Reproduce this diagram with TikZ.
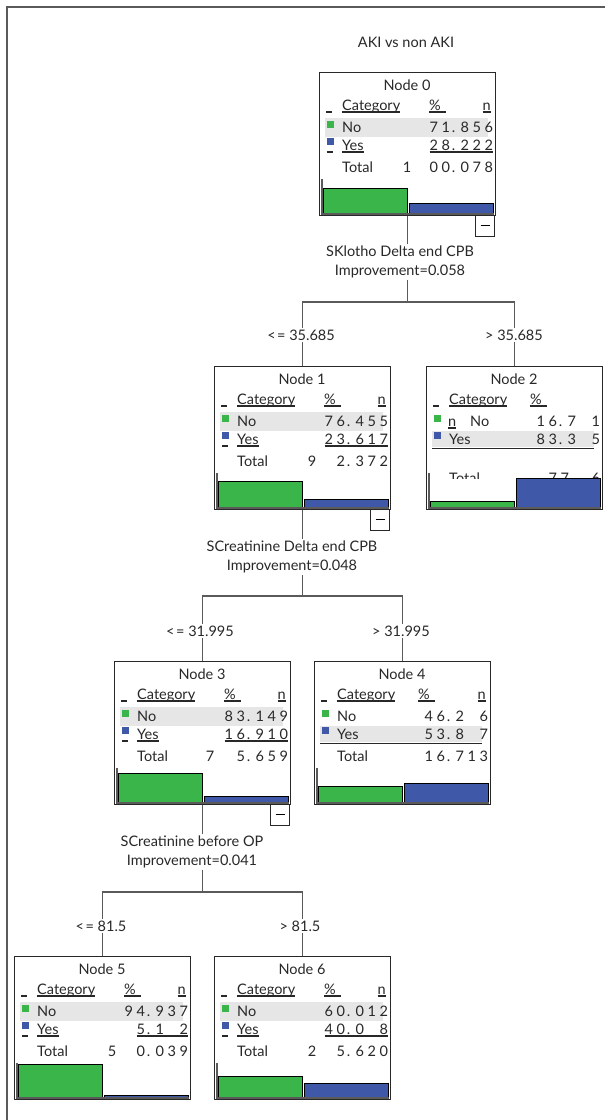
\documentclass[tikz,border=0pt]{standalone}
\usepackage{fontspec}
\setmainfont{Lato}
\usetikzlibrary{backgrounds}
\definecolor{gbar}{RGB}{57,181,74}
\definecolor{bbar}{RGB}{63,88,168}
\definecolor{band}{RGB}{230,230,230}
\definecolor{ink}{RGB}{40,40,40}
\definecolor{lin}{RGB}{90,90,90}
\makeatletter
\def\sl@x{x}\def\sl@dot{.}
\newcommand\slots[1]{\@tfor\sl@t:=#1\do{\ifx\sl@t\sl@x\makebox[12pt]{}\else\ifx\sl@t\sl@dot\makebox[7pt][l]{.}\else\makebox[12pt]{\sl@t}\fi\fi}}
\makeatother
\newcommand\myleq{<\kern1.5pt=}
\tikzset{
  txt/.style={font=\fontsize{14.5}{19}\selectfont, text=ink, inner sep=0pt},
  boxframe/.style={draw=ink, line width=0.8pt, fill=white, minimum width=176pt, minimum height=143pt, inner sep=0pt, anchor=north west},
  uline/.style={ink, line width=1.2pt},
  thickline/.style={ink, line width=1.6pt},
  conn/.style={lin, line width=1.2pt},
  lbl/.style={txt, fill=white, inner sep=1.5pt, align=center},
  minusbox/.style={draw=ink, line width=0.8pt, fill=white, minimum width=19pt, minimum height=21pt, inner sep=0pt, anchor=north east},
  barg/.style={fill=gbar, draw=black, line width=0.8pt},
  barb/.style={fill=bbar, draw=black, line width=0.8pt},
  axisline/.style={lin, line width=1.2pt},
}
% frame of a tree node: id, L, T, title
\newcommand\tframe[4]{%
  \node[boxframe] (#1) at (#2,#3) {};
  \node[txt, anchor=base] (#1t) at (#2+88,#3+18) {#4};
}
% chart: id, L, T, green pct, blue pct
\newcommand\tchart[5]{%
  \fill[white] (#2+2,#3+113) rectangle (#2+175,#3+142);
  \draw[barg] (#2+4,#3+141) rectangle (#2+88,{#3+141-0.34*#4});
  \draw[barb] (#2+90,#3+141) rectangle (#2+174,{#3+141-0.34*#5});
  \draw[axisline] (#2+3,#3+107) -- (#2+3,#3+142) -- (#2+175,#3+142);
}
\newcommand\uln[1]{\draw[uline] ([yshift=-2pt]#1.base west) -- ([yshift=-2pt]#1.base east);}
\newcommand\ulnum[1]{\draw[uline] ([xshift=2pt,yshift=-2pt]#1.base west) -- ([xshift=-2pt,yshift=-2pt]#1.base east);}
% header: id, L, T, percent x
\newcommand\theader[4]{%
  \draw[uline] (#2+7,#3+40) -- (#2+13,#3+40);
  \node[txt,anchor=base west] (#1c) at (#2+23,#3+38) {Category}; \uln{#1c}
  \node[txt,anchor=base west] (#1p) at (#2+#4,#3+38) {\%};
  \draw[uline] ([yshift=-2pt]#1p.base west) -- ++(17,0);
  \fill[gbar] (#2+7.5,#3+48.5) rectangle (#2+14.5,#3+56);
  \fill[bbar] (#2+7.5,#3+65.5) rectangle (#2+14.5,#3+73);
}
% standard table: id, L, T, No num, Yes num, lead digit, lead x, total rest
\newcommand\ttable[8]{%
  \fill[band] (#2+6,#3+46) rectangle (#2+169,#3+65);
  \theader{#1}{#2}{#3}{110}
  \node[txt,anchor=base east] (#1n) at (#2+172,#3+38) {n}; \uln{#1n}
  \draw[uline] (#2+8,#3+80) -- (#2+14,#3+80);
  \node[txt,anchor=base west] (#1no) at (#2+23,#3+60) {No};
  \node[txt,anchor=base east] (#1nov) at (#2+176,#3+60) {\slots{#4}};
  \node[txt,anchor=base west] (#1ye) at (#2+23,#3+78) {Yes}; \uln{#1ye}
  \node[txt,anchor=base east] (#1yev) at (#2+176,#3+78) {\slots{#5}}; \ulnum{#1yev}
  \node[txt,anchor=base west] (#1to) at (#2+23,#3+100) {Total};
  \node[txt,anchor=base] (#1tl) at (#2+#7,#3+100) {#6};
  \node[txt,anchor=base east] (#1tv) at (#2+176,#3+100) {\slots{#8}};
}
\newcommand\tminus[3]{\node[minusbox] (#1m) at (#2+176,#3+143) {\rule{9pt}{1pt}};}

\begin{document}
\begin{tikzpicture}[x=1pt,y=-1pt]
\useasboundingbox (0,0) rectangle (605,1120);

\node[txt] (title) at (406,42) {AKI vs non AKI};

% Node 0
\tframe{N0}{319}{72}{Node 0}
\ttable{N0}{319}{72}{71.856}{28.222}{1}{88}{00.078}
\tchart{N0}{319}{72}{71.856}{28.222}
\tminus{N0}{319}{72}

% Node 1
\tframe{N1}{214}{366}{Node 1}
\ttable{N1}{214}{366}{76.455}{23.617}{9}{98}{2.372}
\tchart{N1}{214}{366}{76.455}{23.617}
\tminus{N1}{214}{366}

% Node 2
\tframe{N2}{426}{366}{Node 2}
\fill[band] (426+6,366+65) rectangle (426+168,366+81);
\theader{N2}{426}{366}{104}
\node[txt,anchor=base west] (N2n) at (426+22,366+60) {n}; \uln{N2n}
\node[txt,anchor=base west] (N2no) at (426+44,366+60) {No};
\node[txt,anchor=base east] (N2nov) at (426+176,366+60) {\slots{16.7x1}};
\node[txt,anchor=base west] (N2ye) at (426+23,366+78) {Yes};
\node[txt,anchor=base east] (N2yev) at (426+176,366+78) {\slots{83.3x5}};
\draw[thickline] (426+6,366+82.5) -- (426+168,366+82.5);
\node[txt,anchor=base west] (N2to) at (426+23,366+117) {Total};
\node[txt,anchor=base east] (N2tv) at (426+176,366+117) {\slots{77.x6}};
\tchart{N2}{426}{366}{16.65}{83.35}

% Node 3
\tframe{N3}{114}{661}{Node 3}
\ttable{N3}{114}{661}{83.149}{16.910}{7}{96}{5.659}
\tchart{N3}{114}{661}{83.149}{16.910}
\tminus{N3}{114}{661}

% Node 4
\tframe{N4}{314}{661}{Node 4}
\fill[band] (314+6,661+65) rectangle (314+168,661+81);
\theader{N4}{314}{661}{104}
\node[txt,anchor=base east] (N4n) at (314+172,661+38) {n}; \uln{N4n}
\node[txt,anchor=base west] (N4no) at (314+23,661+60) {No};
\node[txt,anchor=base east] (N4nov) at (314+176,661+60) {\slots{46.2x6}};
\node[txt,anchor=base west] (N4ye) at (314+23,661+78) {Yes};
\node[txt,anchor=base east] (N4yev) at (314+176,661+78) {\slots{53.8x7}};
\draw[thickline] (314+6,661+82.5) -- (314+168,661+82.5);
\node[txt,anchor=base west] (N4to) at (314+23,661+100) {Total};
\node[txt,anchor=base east] (N4tv) at (314+176,661+100) {\slots{16.713}};
\tchart{N4}{314}{661}{46.2}{53.8}

% Node 5
\tframe{N5}{14}{956}{Node 5}
\ttable{N5}{14}{956}{94.937}{5.1x2}{5}{98}{0.039}
\tchart{N5}{14}{956}{94.937}{5.12}

% Node 6
\tframe{N6}{214}{956}{Node 6}
\ttable{N6}{214}{956}{60.012}{40.0x8}{2}{98}{5.620}
\tchart{N6}{214}{956}{60.012}{40.008}

% split labels
\node[lbl] (s0) at (400,262) {SKlotho Delta end CPB\\Improvement=0.058};
\node[lbl] (c1) at (301,335) {\myleq{} 35.685};
\node[lbl] (c2) at (514,335) {> 35.685};
\node[lbl] (s1) at (292,557) {SCreatinine Delta end CPB\\Improvement=0.048};
\node[lbl] (c3) at (200,631) {\myleq{} 31.995};
\node[lbl] (c4) at (401,631) {> 31.995};
\node[lbl] (s3) at (192,852) {SCreatinine before OP\\Improvement=0.041};
\node[lbl] (c5) at (101,926) {\myleq{} 81.5};
\node[lbl] (c6) at (300,926) {> 81.5};

\begin{pgfonlayer}{background}
  \fill[white] (0,0) rectangle (605,1120);
  \draw[lin, line width=1.6pt] (7,1120) -- (7,7) -- (605,7);
  \coordinate (j0) at (N0.south |- 0,302);
  \coordinate (j1) at (N1.south |- 0,596);
  \coordinate (j3) at (N3.south |- 0,892);
  \draw[conn] (N0.south) -- (j0);
  \draw[conn] (N1.north) |- (j0) -| (N2.north);
  \draw[conn] (N1.south) -- (j1);
  \draw[conn] (N3.north) |- (j1) -| (N4.north);
  \draw[conn] (N3.south) -- (j3);
  \draw[conn] (N5.north) |- (j3) -| (N6.north);
\end{pgfonlayer}
\end{tikzpicture}
\end{document}
